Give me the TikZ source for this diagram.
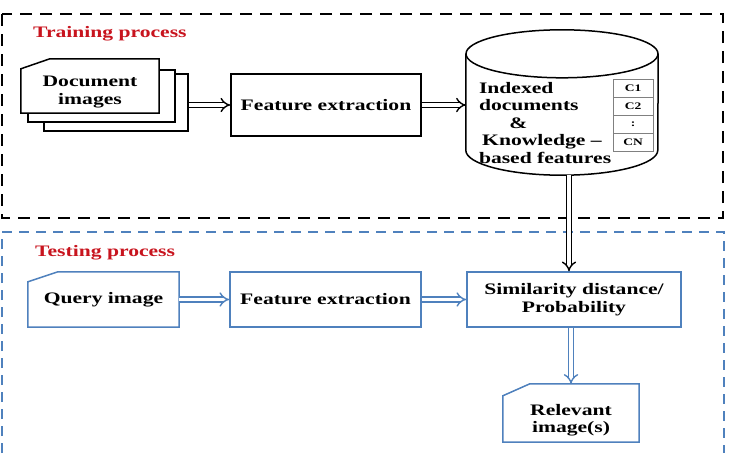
\documentclass[tikz,border=0pt]{standalone}
\usepackage{fontspec}
\setmainfont{Liberation Serif}[FakeStretch=1.35]
\usetikzlibrary{positioning,arrows.meta,calc}
\usetikzlibrary{math}

\definecolor{boxblue}{RGB}{79,129,189}
\definecolor{titlered}{RGB}{200,20,30}

\tikzset{
    blockblack/.style={draw, line width=1.5pt, align=center, inner sep=0pt},
    blockblue/.style={draw=boxblue, line width=1.5pt, align=center, inner sep=0pt},
    pagebox/.style={fill=white, inner sep=0pt, align=center},
    cell/.style={draw=gray, line width=0.8pt, minimum width=40pt, minimum height=18pt,
        inner sep=0pt, outer sep=0pt, font=\fontsize{10}{11}\selectfont\bfseries},
    dblarrow/.style={double, double distance=3.5pt, line width=1.4pt, -{Implies}},
    frametitle/.style={anchor=west, inner sep=0pt, text=titlered},
}

\begin{document}
\begin{tikzpicture}[
    x=1pt, y=1pt,
    font=\fontsize{16}{17.5}\selectfont\bfseries,
  ]

  \useasboundingbox (0,0) rectangle (729,-453);

  \tikzmath{
    \cutw = 29; % width of the cut corner of a page
    \cuth = 10; % height of the cut corner of a page
    \dbrx = 96; % x radius of the database ellipses
    \dbry = 24; % y radius of the database ellipses
  }

  % ----------------
  % Training process
  % ----------------

  \draw[line width=2pt, dash pattern=on 12pt off 8pt] (2,-14) rectangle (723,-218);
  \node[frametitle] (train) at (33,-34) {Training process};

  % The stack of document pages
  \node[blockblack, fill=white, minimum width=144pt, minimum height=57pt] (doc3) at (116,-102.5) {};
  \node[blockblack, fill=white, minimum width=147pt, minimum height=52pt] (doc2) at (101.5,-96) {};
  \node[pagebox, minimum width=138pt, minimum height=54pt] (doc1) at (90,-86) {};
  \draw[line width=1.5pt] ([yshift=-\cuth pt]doc1.north west) -- ([xshift=\cutw pt]doc1.north west)
    -- (doc1.north east) -- (doc1.south east) -- (doc1.south west) -- cycle;
  \node[align=center, inner sep=0pt] (doctext) at ([yshift=-6pt]doc1.center) {Document\\images};

  \node[blockblack, minimum width=190pt, minimum height=62pt] (feat1) at (326,-105) {Feature extraction};

  % The database
  \node[minimum width=192pt, minimum height=145pt, inner sep=0pt] (db) at (562,-102.5) {};
  \draw[line width=1.5pt] ([yshift=-\dbry pt]db.north west) -- ([yshift=25pt]db.south west)
    arc[start angle=180, end angle=360, x radius=\dbrx pt, y radius=25pt]
    -- ([yshift=-\dbry pt]db.north east);
  \draw[line width=1.5pt] ([yshift=-\dbry pt]db.north) ellipse [x radius=\dbrx pt, y radius=\dbry pt];

  \node[anchor=west, align=left, inner sep=0pt] (dbtext) at ([xshift=13pt, yshift=-20.5pt]db.west)
    {Indexed\\documents\\\hspace*{1.9em}\&\\\hspace*{0.2em}Knowledge --\\based features};

  \node[cell] (c1) at (633,-88) {C1};
  \node[cell, below=0pt of c1] (c2) {C2};
  \node[cell, below=0pt of c2] (c3) {:};
  \node[cell, below=0pt of c3] (cn) {CN};

  % ---------------
  % Testing process
  % ---------------

  \draw[draw=boxblue, line width=1.8pt, dash pattern=on 10pt off 7pt]
    (2,-453) -- (2,-232) -- (724,-232) -- (724,-453);
  \node[frametitle] (test) at (35,-253) {Testing process};

  \node[pagebox, minimum width=151pt, minimum height=55pt] (query) at (103.5,-299.5) {Query image};
  \draw[draw=boxblue, line width=1.5pt] ([yshift=-\cuth pt]query.north west) -- ([xshift=30pt]query.north west)
    -- (query.north east) -- (query.south east) -- (query.south west) -- cycle;

  \node[blockblue, minimum width=191pt, minimum height=55pt] (feat2) at (325.5,-299.5) {Feature extraction};
  \node[blockblue, minimum width=214pt, minimum height=55pt] (sim) at (574,-299.5) {Similarity distance/\\Probability};

  \node[pagebox, minimum width=136pt, minimum height=58pt] (rel) at (571,-413) {};
  \draw[draw=boxblue, line width=1.5pt] ([yshift=-12pt]rel.north west) -- ([xshift=27pt]rel.north west)
    -- (rel.north east) -- (rel.south east) -- (rel.south west) -- cycle;
  \node[align=center, inner sep=0pt] (reltext) at ([yshift=-7pt]rel.center) {Relevant\\image(s)};

  % Arrows
  \draw[dblarrow] (doc3.east |- feat1.west) -- (feat1.west);
  \draw[dblarrow] (feat1.east) -- (feat1.east -| db.west);
  \draw[dblarrow] ([xshift=7pt]db.south) -- ([xshift=7pt]db.south |- sim.north);

  \draw[dblarrow, draw=boxblue] (query.east) -- (feat2.west);
  \draw[dblarrow, draw=boxblue] (feat2.east) -- (sim.west);
  \draw[dblarrow, draw=boxblue] (rel.north |- sim.south) -- (rel.north);

\end{tikzpicture}
\end{document}
